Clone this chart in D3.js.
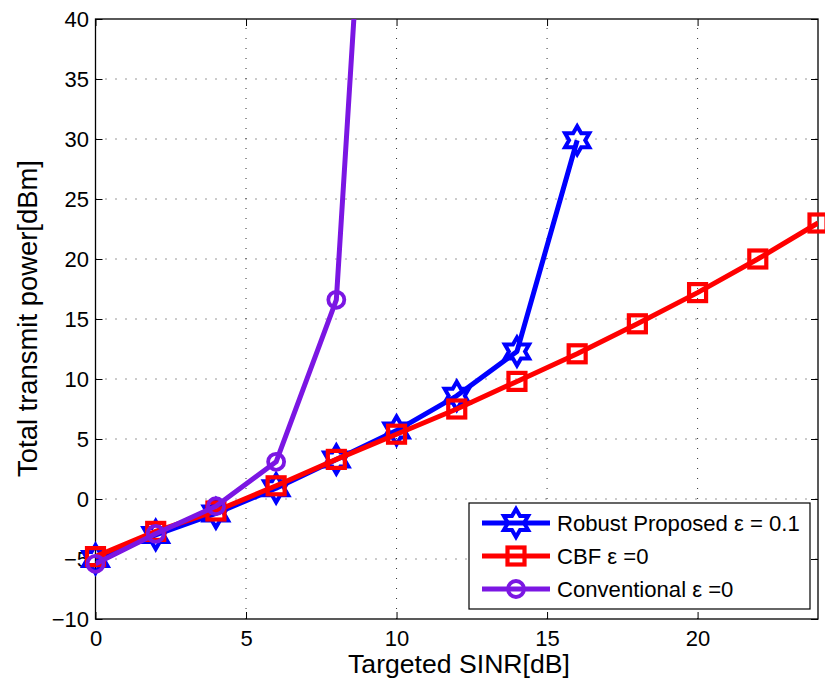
<!DOCTYPE html>
<html><head><meta charset="utf-8">
<script src="https://cdn.jsdelivr.net/npm/d3@7"></script>
<style>body{margin:0;background:#fff}svg{display:block}text{font-family:"Liberation Sans",Arial,sans-serif}</style>
</head><body>
<script>
const xRobust = [0,2,4,6,8,10,12,14,16];
const yRobust = [-5.0,-3.0,-1.2,0.9,3.3,5.7,8.6,12.3,29.9];
const xCBF = [0,2,4,6,8,10,12,14,16,18,20,22,24];
const yCBF = [-4.8,-2.7,-1.0,1.1,3.3,5.4,7.5,9.8,12.1,14.6,17.2,20.0,23.0];
const xConv = [0,2,4,6,8,10];
const yConv = [-5.4,-2.9,-0.6,3.1,16.6,97];
const xTicks = [0,5,10,15,20];
const yTicks = [-10,-5,0,5,10,15,20,25,30,35,40];
const legendLabels = ["Robust Proposed \u03b5 = 0.1","CBF \u03b5 =0","Conventional \u03b5 =0"];

const W=825,H=685;
const m={l:95.5,r:7,t:19,b:66};
const svg=d3.select("body").append("svg").attr("width",W).attr("height",H);
const x=d3.scaleLinear().domain([0,24]).range([m.l,W-m.r]);
const y=d3.scaleLinear().domain([-10,40]).range([H-m.b,m.t]);
const x0=x.range()[0],x1=x.range()[1],y0=y.range()[0],y1=y.range()[1];

svg.append("defs").append("clipPath").attr("id","clip").append("rect")
  .attr("x",x0).attr("y",y1).attr("width",x1-x0).attr("height",y0-y1);

function fit(sel,target){const n=sel.node();const fs=parseFloat(sel.attr("font-size"));const w=n.getComputedTextLength();sel.attr("font-size",fs*target/w);}

// grid
const g=svg.append("g");
g.selectAll(".gx").data(xTicks.filter(d=>d>0)).enter().append("line")
 .attr("x1",d=>x(d)).attr("x2",d=>x(d)).attr("y1",y0).attr("y2",y1)
 .attr("stroke","#333").attr("stroke-width",1).attr("stroke-dasharray","1,9");
g.selectAll(".gy").data(yTicks.filter(d=>d>-10&&d<40)).enter().append("line")
 .attr("y1",d=>y(d)).attr("y2",d=>y(d)).attr("x1",x0).attr("x2",x1)
 .attr("stroke","#333").attr("stroke-width",1).attr("stroke-dasharray","1,9");

// axes
const ax=svg.append("g").attr("transform",`translate(0,${y0})`)
 .call(d3.axisBottom(x).tickValues(xTicks).tickSize(-7).tickPadding(11).tickFormat(d3.format("d")));
const ay=svg.append("g").attr("transform",`translate(${x0},0)`)
 .call(d3.axisLeft(y).tickValues(yTicks).tickSize(-7).tickPadding(6.5).tickFormat(d=>d<0?"\u2212"+Math.abs(d):d));
const at=svg.append("g").attr("transform",`translate(0,${y1})`)
 .call(d3.axisTop(x).tickValues(xTicks).tickSize(-7).tickFormat(""));
const ar=svg.append("g").attr("transform",`translate(${x1},0)`)
 .call(d3.axisRight(y).tickValues(yTicks).tickSize(-7).tickFormat(""));
[ax,ay,at,ar].forEach(a=>{a.select(".domain").remove();a.selectAll("line").attr("stroke","#000");
  a.selectAll("text").attr("font-size",22).attr("fill","#000").attr("font-family","Liberation Sans, Arial, sans-serif");});
ay.selectAll("text").attr("dy","0.36em");
svg.append("rect").attr("x",x0).attr("y",y1).attr("width",x1-x0).attr("height",y0-y1)
 .attr("fill","none").attr("stroke","#000").attr("stroke-width",1.3);

// series
function hexagram(r){
  const ri=r/Math.sqrt(3);const pts=[];
  for(let i=0;i<12;i++){const a=-Math.PI/2+i*Math.PI/6;const rr=i%2?ri:r;pts.push([rr*Math.cos(a),rr*Math.sin(a)]);}
  return "M"+pts.map(p=>p.join(",")).join("L")+"Z";
}
const series=[
 {xs:xRobust,ys:yRobust,color:"#0000ff",marker:"hex"},
 {xs:xCBF,ys:yCBF,color:"#ff0000",marker:"sq"},
 {xs:xConv,ys:yConv,color:"#7b16e3",marker:"circ"}
];
const line=d3.line().x(d=>x(d[0])).y(d=>y(d[1]));
function drawMarker(sel,type,color){
  if(type==="hex") sel.append("path").attr("d",hexagram(14)).attr("fill","none").attr("stroke",color).attr("stroke-width",4).attr("stroke-linejoin","miter");
  else if(type==="sq") sel.append("rect").attr("x",-8.5).attr("y",-8.5).attr("width",17).attr("height",17).attr("fill","none").attr("stroke",color).attr("stroke-width",4.2);
  else sel.append("circle").attr("r",8).attr("fill","none").attr("stroke",color).attr("stroke-width",3.8);
}
series.forEach(s=>{
  const data=s.xs.map((v,i)=>[v,s.ys[i]]);
  svg.append("path").attr("clip-path","url(#clip)").datum(data).attr("d",line).attr("fill","none").attr("stroke",s.color).attr("stroke-width",5).attr("stroke-linejoin","round");
  data.filter(d=>d[1]<=40&&d[1]>=-10).forEach(d=>{const mg=svg.append("g").attr("transform",`translate(${x(d[0])},${y(d[1])})`);drawMarker(mg,s.marker,s.color);});
});

// legend
const lg=svg.append("g");
lg.append("rect").attr("x",469).attr("y",503).attr("width",341).attr("height",106).attr("fill","#fff").attr("stroke","#000").attr("stroke-width",1.2);
series.forEach((s,i)=>{
  const yy=523+i*33;
  lg.append("line").attr("x1",482).attr("x2",550).attr("y1",yy).attr("y2",yy).attr("stroke",s.color).attr("stroke-width",5);
  const mg=lg.append("g").attr("transform",`translate(516,${yy})`);drawMarker(mg,s.marker,s.color);
  const t=lg.append("text").attr("x",557).attr("y",yy+8).attr("font-size",22).text(legendLabels[i]);
  if(i===0) fit(t,243);
});
const fsLeg=lg.select("text").attr("font-size");
lg.selectAll("text").attr("font-size",fsLeg);

// labels
const xl=svg.append("text").attr("x",459).attr("y",673).attr("text-anchor","middle").attr("font-size",26).text("Targeted SINR[dB]");
fit(xl,222);
const yl=svg.append("text").attr("transform",`translate(37,318.5) rotate(-90)`).attr("text-anchor","middle").attr("font-size",26).text("Total transmit power[dBm]");
fit(yl,317);
</script>
</body></html>
